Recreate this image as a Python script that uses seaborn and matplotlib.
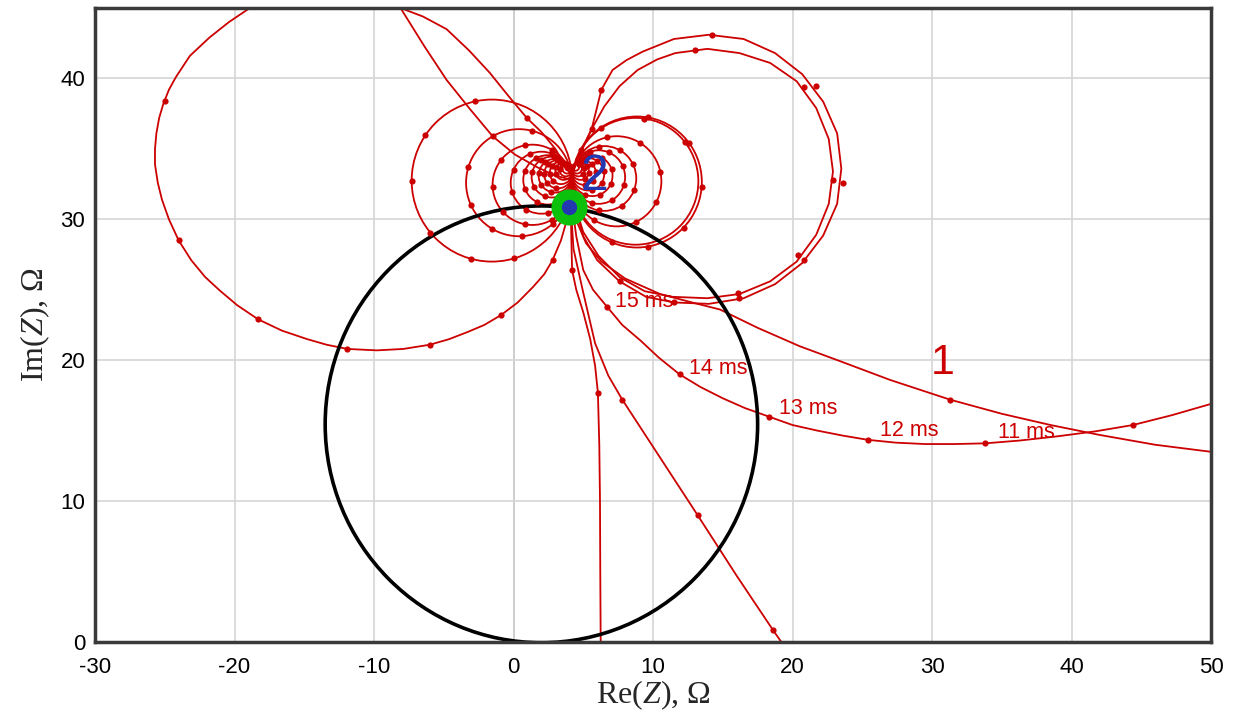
import numpy as np
import seaborn as sns
import matplotlib
matplotlib.use("Agg")
import matplotlib.pyplot as plt
from matplotlib.patches import Circle

RED = "#cc0000"
BLUE = "#2338b0"
GREEN = "#0cc10c"

# --- trajectories (Re, Im in Ohm) ---
loop_x = [4.2, 3.0, 2.0, 0.95, -0.4, -1.7, -3.2, -4.8, -6.5, -8.1, -10.5, -13.5, -16.5, -18.9,
          -20.4, -21.8, -23.2, -24.2, -24.7, -25.1, -25.4, -25.6, -25.7, -25.7, -25.5, -25.2,
          -24.7, -24.0, -23.1, -22.1, -21.0, -19.8, -18.3, -16.6, -14.8, -13.4, -11.9, -9.8,
          -7.9, -6.0, -4.6, -3.3, -2.1, -0.9, 0.3, 1.4, 2.2, 2.8, 3.4, 3.9, 4.2]
loop_y = [33.0, 35.0, 36.2, 37.2, 38.8, 40.4, 42.0, 43.5, 44.4, 45.0, 46.0, 46.5, 46.1, 45.0,
          44.0, 42.9, 41.6, 40.1, 39.2, 38.2, 37.2, 36.1, 35.0, 33.9, 32.6, 31.4,
          30.0, 28.5, 27.1, 25.9, 24.9, 23.9, 22.9, 22.1, 21.5, 21.1, 20.8, 20.7,
          20.8, 21.1, 21.5, 22.0, 22.5, 23.2, 24.1, 25.2, 26.1, 27.1, 28.5, 30.2, 32.0]
loop_dot_x = [0.95, -25.0, -24.0, -18.3, -11.9, -6.0, -0.9, 2.8]
loop_dot_y = [37.2, 38.4, 28.5, 22.9, 20.8, 21.1, 23.2, 27.1]

top_line_x = [-8.1, -6.4, -4.8, -3.1, -1.5, 0.1, 1.7, 3.0, 4.2]
top_line_y = [45.0, 42.3, 39.9, 37.8, 35.9, 34.6, 33.7, 33.1, 32.8]

outer_x = [4.2, 4.8, 5.6, 6.3, 7.1, 8.1, 9.25, 11.5, 14.0, 16.5, 18.75, 20.7, 22.2, 23.2, 23.5,
           23.2, 22.2, 20.7, 18.75, 16.5, 14.0, 11.5, 9.5, 7.6, 6.0, 5.0, 4.4]
outer_y = [33.2, 34.7, 36.4, 39.2, 40.6, 41.3, 41.9, 42.8, 43.1, 42.8, 41.8, 40.3, 38.35, 36.1, 33.6,
           31.1, 28.85, 26.9, 25.4, 24.4, 24.0, 24.1, 24.5, 25.6, 27.1, 28.8, 31.0]
outer_dot_x = [6.3, 14.2, 21.7, 23.6, 20.8, 16.2, 11.5, 7.6]
outer_dot_y = [39.2, 43.1, 39.45, 32.6, 27.1, 24.4, 24.1, 25.6]

inner_x = [4.2, 4.9, 5.6, 6.5, 7.6, 8.9, 10.3, 11.6, 13.9, 16.2, 18.4, 20.3, 21.7, 22.6, 22.9,
           22.6, 21.7, 20.3, 18.4, 16.2, 13.9, 11.4, 9.4, 7.6, 6.1, 5.0, 4.4]
inner_y = [33.4, 35.0, 36.4, 38.0, 39.45, 40.6, 41.35, 41.8, 42.1, 41.8, 41.1, 39.8, 37.9, 35.7, 33.4,
           31.1, 28.9, 27.0, 25.6, 24.7, 24.4, 24.5, 24.9, 25.9, 27.4, 29.1, 31.0]
inner_dot_x = [5.6, 13.0, 20.8, 22.9, 20.4, 16.1]
inner_dot_y = [36.4, 42.0, 39.4, 32.8, 27.5, 24.8]

curve1_x = [4.2, 4.6, 5.2, 6.3, 8.0, 10.5, 12.8, 14.8, 17.5, 20.5, 23.5, 27.0, 31.3, 35.0, 38.5, 42.0,
            46.0, 50.0]
curve1_y = [31.5, 29.7, 28.3, 27.0, 25.8, 24.7, 24.1, 23.6, 22.3, 21.0, 19.9, 18.6, 17.2, 16.2, 15.4, 14.7,
            14.0, 13.5]
curve1_dot_x = [31.3]
curve1_dot_y = [17.2]

ms_x = [4.2, 4.5, 5.0, 5.7, 6.7, 7.8, 9.1, 10.4, 11.9, 13.4, 15.0, 16.6, 18.3, 20.0, 21.8,
        23.6, 25.4, 27.4, 29.5, 31.6, 33.8, 36.3, 39.0, 41.7, 44.4, 47.2, 50.0]
ms_y = [31.0, 28.8, 26.4, 25.0, 23.8, 22.5, 21.4, 20.2, 19.0, 18.1, 17.3, 16.6, 16.0, 15.4, 15.0,
        14.65, 14.35, 14.15, 14.05, 14.05, 14.1, 14.3, 14.6, 14.95, 15.4, 16.1, 16.9]
ms_dot_x = [6.7, 11.9, 18.3, 25.4, 33.8, 44.4]
ms_dot_y = [23.8, 19.0, 16.0, 14.35, 14.1, 15.4]
ms_labels = ["15 ms", "14 ms", "13 ms", "12 ms", "11 ms"]
ms_label_x = [7.3, 12.6, 19.0, 26.3, 34.7]
ms_label_y = [24.15, 19.4, 16.55, 15.0, 14.85]

vert_x = [4.1, 4.15, 4.2, 4.5, 5.0, 5.5, 5.85, 6.05, 6.15, 6.2, 6.22, 6.25]
vert_y = [31.0, 28.5, 26.4, 25.0, 23.4, 21.5, 19.6, 17.7, 14.0, 10.0, 5.0, 0.0]
vert_dot_x = [4.2, 6.05]
vert_dot_y = [26.4, 17.7]

diag_x = [4.1, 4.3, 5.0, 5.85, 6.8, 7.8, 10.5, 13.2, 16.0, 18.6, 19.2]
diag_y = [31.0, 27.9, 24.8, 21.2, 18.9, 17.2, 13.1, 9.0, 4.7, 0.85, 0.0]
diag_dot_x = [7.8, 13.2, 18.6]
diag_dot_y = [17.2, 9.0, 0.85]

# small circles near the focus point: centre x, centre y, radius, dot angles (deg)
left_cx = [-1.55, 0.4, 1.35, 2.0, 2.45, 2.75, 3.0, 3.2, 3.4, 3.6, 3.75, 3.85, 3.95]
left_cy = [32.75, 32.6, 32.45, 32.6, 32.8, 33.0, 33.1, 33.2, 33.3, 33.4, 33.5, 33.6, 33.7]
left_r = [5.75, 3.8, 2.85, 2.2, 1.75, 1.45, 1.2, 1.0, 0.8, 0.6, 0.45, 0.35, 0.25]
left_dots = [[102, 146, 180, 220, 255, 286],
             [76, 119, 163, 205, 239, 273, 310],
             [60, 100, 141, 183, 222, 260, 300],
             [70, 112, 155, 198, 240, 282],
             [75, 118, 160, 202, 245, 288],
             [80, 122, 165, 208, 250, 292],
             [85, 128, 170, 212, 255],
             [90, 135, 178, 220, 262],
             [95, 140, 185, 228],
             [100, 150, 200],
             [110, 170],
             [120],
             []]

right_cx = [8.85, 8.75, 7.4, 6.5, 6.1, 5.65, 5.35, 5.05, 4.8, 4.65, 4.55, 4.45]
right_cy = [32.65, 32.7, 32.7, 32.9, 33.0, 33.1, 33.2, 33.3, 33.4, 33.5, 33.6, 33.7]
right_r = [4.65, 4.5, 3.2, 2.3, 1.9, 1.45, 1.15, 0.85, 0.6, 0.45, 0.35, 0.25]
right_dots = [[124, 80, 36, -4, -44, -80, -113],
              [150, 82, 38],
              [150, 102, 58, 12, -28, -65, -120],
              [100, 61, 26, -20, -57, -100, -140],
              [110, 68, 25, -18, -60, -105],
              [105, 62, 18, -25, -68, -112],
              [100, 55, 12, -32, -75],
              [95, 50, 5, -40, -85],
              [90, 40, -10, -60],
              [80, 20, -40],
              [60],
              []]

# reference circle and operating point
ref_center = (2.0, 15.45)
ref_radius = 15.5
op_point = (3.95, 30.85)

sns.set_theme(style="whitegrid")
plt.rcParams["font.family"] = ["Liberation Sans", "DejaVu Sans"]
plt.rcParams["axes.unicode_minus"] = False
plt.rcParams["mathtext.fontset"] = "custom"
plt.rcParams["mathtext.rm"] = "Liberation Serif"
plt.rcParams["mathtext.it"] = "Liberation Serif:italic"

fig = plt.figure(figsize=(12.53, 7.23), dpi=100)
ax = fig.add_axes([95 / 1253, 81 / 723, 1116 / 1253, 634 / 723])
ax.set_facecolor("white")

lw = 1.3
for xs, ys in [(loop_x, loop_y), (top_line_x, top_line_y), (outer_x, outer_y), (inner_x, inner_y),
               (curve1_x, curve1_y), (ms_x, ms_y), (vert_x, vert_y), (diag_x, diag_y)]:
    sns.lineplot(x=xs, y=ys, sort=False, estimator=None, color=RED, linewidth=lw, ax=ax)

dot_x = loop_dot_x + outer_dot_x + inner_dot_x + curve1_dot_x + ms_dot_x + vert_dot_x + diag_dot_x
dot_y = loop_dot_y + outer_dot_y + inner_dot_y + curve1_dot_y + ms_dot_y + vert_dot_y + diag_dot_y

for cx, cy, r, angs in list(zip(left_cx, left_cy, left_r, left_dots)) + \
        list(zip(right_cx, right_cy, right_r, right_dots)):
    ax.add_patch(Circle((cx, cy), r, fill=False, ec=RED, lw=lw, zorder=2))
    a = np.radians(angs)
    dot_x += list(cx + r * np.cos(a))
    dot_y += list(cy + r * np.sin(a))

sns.scatterplot(x=dot_x, y=dot_y, color=RED, s=20, linewidth=0, ax=ax, zorder=3)

ax.add_patch(Circle(ref_center, ref_radius, fill=False, ec="black", lw=2.6, zorder=2.5))

ax.plot(*op_point, "o", color=GREEN, markersize=25, zorder=5)
ax.plot(*op_point, "o", color=BLUE, markersize=10, zorder=6)

ax.text(5.8, 33.0, "2", color=BLUE, fontsize=36, ha="center", va="center", zorder=7)
ax.text(30.8, 19.8, "1", color=RED, fontsize=31, ha="center", va="center", zorder=7)
for lab, lx, ly in zip(ms_labels, ms_label_x, ms_label_y):
    ax.text(lx, ly, lab, color=RED, fontsize=15.5, ha="left", va="center", zorder=7)

ax.set_xlim(-30, 50)
ax.set_ylim(0, 45)
ax.set_xticks(range(-30, 51, 10))
ax.set_yticks(range(0, 41, 10))
ax.grid(True, color="#d6d6d6", linewidth=1.2)
ax.axvline(0, color="#b0b0b0", linewidth=1.4, zorder=0.5)
ax.tick_params(axis="both", length=0, labelsize=16, labelcolor="black")
ax.tick_params(axis="x", pad=11)
ax.tick_params(axis="y", pad=7)
for sp in ax.spines.values():
    sp.set_color("#3a3a3a")
    sp.set_linewidth(2.5)

ax.set_xlabel(r"Re($Z$), Ω", fontsize=23, family="Liberation Serif", labelpad=0)
ax.set_ylabel(r"Im($Z$), Ω", fontsize=23, family="Liberation Serif", labelpad=6)

plt.savefig("out.png", dpi=100)
